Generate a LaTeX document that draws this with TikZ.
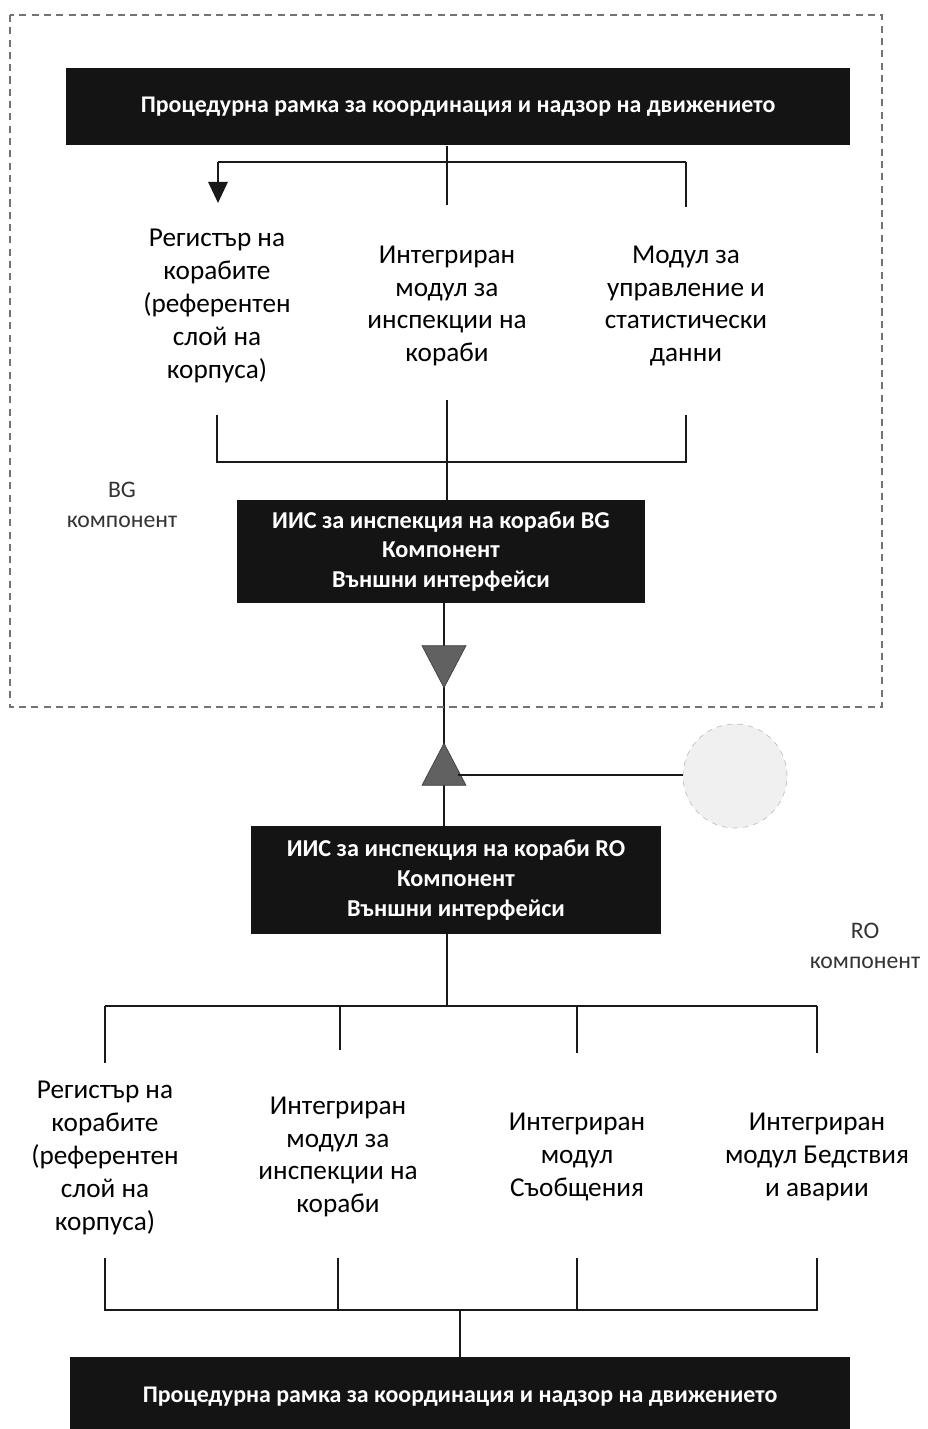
\documentclass[tikz,border=0pt]{standalone}
\usepackage{fontspec}
\setmainfont{Carlito}
\usetikzlibrary{arrows.meta,shapes.geometric}
\pgfdeclarelayer{behind}
\pgfsetlayers{behind,main}
\begin{document}
\begin{tikzpicture}[x=0.02cm,y=-0.02cm,
  blackbox/.style={fill=black!92,draw=none,text=white,font=\bfseries\fontsize{13.8}{17}\selectfont,align=center,inner sep=0pt},
  wide/.style={blackbox,font=\bfseries\fontsize{13.6}{16}\selectfont},
  coltext/.style={align=center,font=\fontsize{15.5}{18.7}\selectfont,inner sep=0pt},
  lbl/.style={align=center,font=\fontsize{13.5}{17}\selectfont,text=black!80,inner sep=0pt},
  conn/.style={line width=1.3pt,draw=black!90},
  tri/.style={isosceles triangle,isosceles triangle stretches,minimum width=44*0.02cm,minimum height=42*0.02cm,fill=black!62,draw=black!75,inner sep=0pt},
  frame/.style={draw=black!55,dashed,dash pattern=on 4pt off 3pt,line width=0.6pt}
]
\useasboundingbox (0,0) rectangle (928,1429);
% dashed frame
\draw[frame] (10,15) rectangle (882,707);
% top box
\node[wide,minimum width=784*0.02cm,minimum height=77*0.02cm] (topbox) at (458,107) {Процедурна рамка за координация и надзор на движението};
% top columns
\node[coltext] (c1) at (217,306) {Регистър на\\корабите\\(референтен\\слой на\\корпуса)};
\node[coltext] (c2) at (447,306) {Интегриран\\модул за\\инспекции на\\кораби};
\node[coltext] (c3) at (686,306) {Модул за\\управление и\\статистически\\данни};
% upper connectors
\coordinate (tj) at (447,162);
\coordinate (tl) at (218,162);
\coordinate (tr) at (686,162);
\coordinate (ta) at (218,203);
\coordinate (tm) at (447,205);
\coordinate (trd) at (686,207);
\draw[conn] (topbox.south -| tj) -- (tj);
\draw[conn] (tl) -- (tr);
\draw[conn,-{Triangle[width=11pt,length=12pt]}] (tl) -- (ta);
\draw[conn] (tj) -- (tm);
\draw[conn] (tr) -- (trd);
% BG box
\node[blackbox,minimum width=408*0.02cm,minimum height=103*0.02cm] (bgbox) at (441,551.5) {ИИС за инспекция на кораби BG\\Компонент\\Външни интерфейси};
\coordinate (b1) at (217,415);
\coordinate (b1d) at (217,462);
\coordinate (b3) at (686,415);
\coordinate (b3d) at (686,462);
\coordinate (b2) at (447,400);
\draw[conn] (b1) -- (b1d) -- (b3d) -- (b3);
\draw[conn] (b2) -- (b2 |- bgbox.north);
\node[lbl] (bglbl) at (122,505) {BG\\компонент};
% RO box
\node[blackbox,minimum width=410*0.02cm,minimum height=108*0.02cm] (robox) at (456,880) {ИИС за инспекция на кораби RO\\Компонент\\Външни интерфейси};
% triangles and circle
\node[tri,shape border rotate=270] (tri1) at (444,659) {};
\node[tri,shape border rotate=90] (tri2) at (444,772) {};
\node[circle,minimum size=104*0.02cm,fill=black!6,draw=black!25,dashed,inner sep=0pt] (circ) at (735,776) {};
\begin{pgfonlayer}{behind}
\draw[conn] (tri1.center |- bgbox.south) -- (tri1.center) -- (tri2.center) -- (tri2.center |- robox.north);
\end{pgfonlayer}
\draw[conn] (tri2.center) ++(14,3) coordinate (tc) (tc) -- (tc -| circ.west);
\node[lbl] (rolbl) at (865,946) {RO\\компонент};
% lower connectors
\coordinate (rj) at (447,1006);
\coordinate (r1) at (105,1006);
\coordinate (r4) at (817,1006);
\coordinate (r2) at (340,1006);
\coordinate (r3) at (577,1006);
\draw[conn] (robox.south -| rj) -- (rj);
\draw[conn] (r1) -- (r4);
\draw[conn] (r1) -- (105,1063);
\draw[conn] (r2) -- (340,1050);
\draw[conn] (r3) -- (577,1053);
\draw[conn] (r4) -- (817,1053);
% bottom columns
\node[coltext] (d1) at (105,1158) {Регистър на\\корабите\\(референтен\\слой на\\корпуса)};
\node[coltext] (d2) at (338,1157) {Интегриран\\модул за\\инспекции на\\кораби};
\node[coltext] (d3) at (577,1157) {Интегриран\\модул\\Съобщения};
\node[coltext] (d4) at (817,1157) {Интегриран\\модул Бедствия\\и аварии};
% bottom bracket
\coordinate (e1) at (105,1258);
\coordinate (e2) at (338,1258);
\coordinate (e3) at (577,1258);
\coordinate (e4) at (817,1258);
\coordinate (f1) at (105,1310);
\coordinate (f2) at (338,1310);
\coordinate (f3) at (577,1310);
\coordinate (f4) at (817,1310);
\coordinate (fj) at (460,1310);
\draw[conn] (e1) -- (f1) -- (f4) -- (e4);
\draw[conn] (e2) -- (f2);
\draw[conn] (e3) -- (f3);
% bottom box
\node[wide,minimum width=780*0.02cm,minimum height=80*0.02cm] (botbox) at (460,1397) {Процедурна рамка за координация и надзор на движението};
\draw[conn] (fj) -- (fj |- botbox.north);
\end{tikzpicture}
\end{document}
